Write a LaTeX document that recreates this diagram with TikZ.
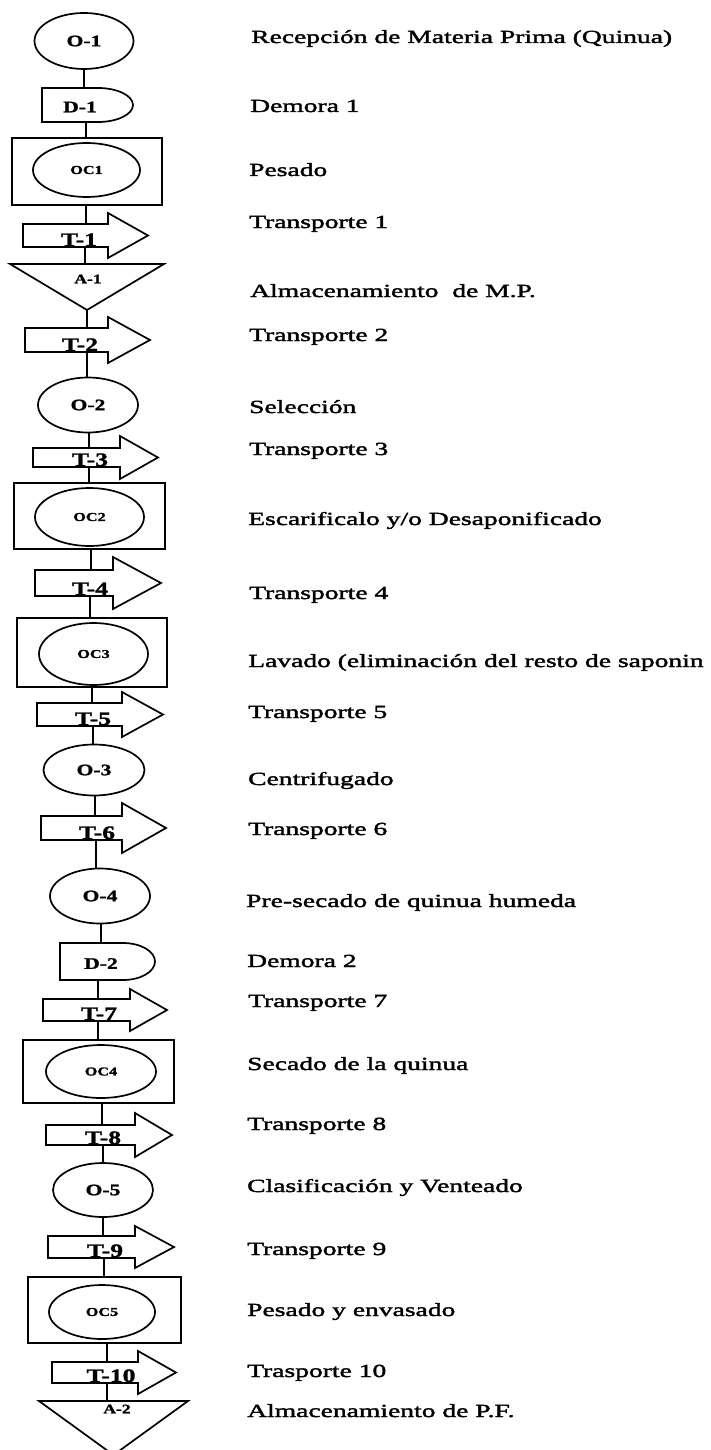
\documentclass[tikz,border=0pt]{standalone}
\usepackage{fontspec}
\setmainfont{Liberation Serif}
\newfontfamily\stepfont[FakeStretch=1.49,FakeBold=2]{Liberation Serif}
\newfontfamily\markfont[FakeStretch=1.35,FakeBold=1.5]{Liberation Serif Bold}
\usetikzlibrary{shapes.geometric,fit}

\tikzset{
  outline/.style={draw=black, line width=1.7pt, line join=miter},
  link/.style={draw=black, line width=2.6pt},
  hull/.style={inner sep=0pt, outer sep=0pt, draw=none, rectangle},
  opell/.style={outline, ellipse, inner sep=0pt, outer sep=0pt},
  ocbox/.style={outline, rectangle, inner sep=0pt, outer sep=0pt},
  tag/.style={inner sep=0pt, font=\markfont\fontsize{#1}{#1}\selectfont},
  desc/.style={anchor=base west, inner sep=0pt, font=\stepfont\fontsize{18.5}{20}\selectfont},
}

% transport arrow: name, body left, body right, body top, body bottom, tip x, head extend, label x, label
\newcommand\transport[9]{%
  \node[hull, fit={(#2,#4) (#3,#5)}] (#1) {};
  \draw[outline] (#1.south west) -- (#1.north west) -- (#1.north east)
    -- ++(0,-#7) -- (#6,{(#4+#5)/2}) -- ([yshift=-#7pt]#1.south east)
    -- (#1.south east) -- cycle;
  \node[tag=19, anchor=base] (#1-l) at (#8,{#5-1}) {#9};
}

% delay shape: name, left, top, right, bottom, bulge radius, label x, label
\newcommand\delay[8]{%
  \node[hull, fit={(#2,#3) (#4,#5)}] (#1) {};
  \draw[outline] (#1.south west) -- (#1.north west) -- ({#4-#6},#3)
    .. controls ({#4-0.448*#6},#3) and (#4,{(#3+#5)/2-0.276*(#5-#3)}) .. (#4,{(#3+#5)/2})
    .. controls (#4,{(#3+#5)/2+0.276*(#5-#3)}) and ({#4-0.448*#6},#5) .. ({#4-#6},#5)
    -- cycle;
  \node[tag=16] (#1-l) at (#7,{(#3+#5)/2+2}) {#8};
}

% storage triangle: name, left, top, right, apex y, label x, label y, label
\newcommand\storage[8]{%
  \node[hull, fit={(#2,#3) (#4,#5)}] (#1) {};
  \draw[outline] (#1.north west) -- (#1.north east) -- (#1.south) -- cycle;
  \node[tag=13] (#1-l) at (#6,#7) {#8};
}

\begin{document}
\begin{tikzpicture}[x=1pt,y=-1pt]
\useasboundingbox (0,0) rectangle (710,1450);
\fill[white] (0,0) rectangle (710,1450);

% ---- process chain ----
\node[opell, minimum width=99pt, minimum height=56pt, tag=16] (o1) at (84,41) {O-1};
\delay{d1}{42}{88}{133}{122}{35}{80}{D-1}
\node[ocbox, minimum width=150pt, minimum height=67pt] (oc1) at (87,171.5) {};
\node[opell, minimum width=107pt, minimum height=54pt, tag=12] (oc1e) at (86.5,170) {OC1};
\transport{t1}{23}{108}{224}{247}{148}{11}{79}{T-1}
\storage{a1}{10}{264}{164}{310}{88}{279}{A-1}
\transport{t2}{25}{108}{328}{352}{150}{11}{80}{T-2}
\node[opell, minimum width=100pt, minimum height=55pt, tag=16] (o2) at (88,405) {O-2};
\transport{t3}{33}{120}{448}{467}{158}{12}{90}{T-3}
\node[ocbox, minimum width=151pt, minimum height=66pt] (oc2) at (89.5,516) {};
\node[opell, minimum width=109pt, minimum height=58pt, tag=12] (oc2e) at (89.5,517) {OC2};
\transport{t4}{35}{113}{570}{596}{161}{13}{90}{T-4}
\node[ocbox, minimum width=150pt, minimum height=69pt] (oc3) at (92,652.5) {};
\node[opell, minimum width=109pt, minimum height=62pt, tag=12] (oc3e) at (93.5,654) {OC3};
\transport{t5}{37}{122}{703}{726}{163}{11}{93}{T-5}
\node[opell, minimum width=101pt, minimum height=51pt, tag=16] (o3) at (94,770) {O-3};
\transport{t6}{41}{122}{816}{840}{166}{13}{97}{T-6}
\node[opell, minimum width=100pt, minimum height=55pt, tag=16] (o4) at (100,896) {O-4};
\delay{d2}{60}{943}{155}{980}{32}{101}{D-2}
\transport{t7}{43}{130}{999}{1021}{167}{10}{99}{T-7}
\node[ocbox, minimum width=151pt, minimum height=63pt] (oc4) at (98.5,1071.5) {};
\node[opell, minimum width=110pt, minimum height=53pt, tag=12] (oc4e) at (101,1071.5) {OC4};
\transport{t8}{46}{135}{1125}{1145}{172}{12}{103}{T-8}
\node[opell, minimum width=100pt, minimum height=54pt, tag=16] (o5) at (103,1190) {O-5};
\transport{t9}{48}{135}{1236}{1258}{174}{10}{105}{T-9}
\node[ocbox, minimum width=153pt, minimum height=66pt] (oc5) at (104.5,1310) {};
\node[opell, minimum width=106pt, minimum height=54pt, tag=12] (oc5e) at (102,1312) {OC5};
\transport{t10}{52}{138}{1362}{1383}{176}{11}{111}{T-10}
\storage{a2}{39}{1401}{188}{1455}{117}{1409}{A-2}

% ---- connectors ----
\draw[link] (84,0 |- o1.south) -- (84,0 |- d1.north);
\draw[link] (86,0 |- d1.south) -- (86,0 |- oc1.north);
\draw[link] (86,0 |- oc1.south) -- (86,0 |- t1.north);
\draw[link] (85,0 |- t1.south) -- (85,0 |- a1.north);
\draw[link] (87,0 |- a1.south) -- (87,0 |- t2.north);
\draw[link] (87,0 |- t2.south) -- (87,0 |- o2.north);
\draw[link] (89,0 |- o2.south) -- (89,0 |- t3.north);
\draw[link] (89,0 |- t3.south) -- (89,0 |- oc2.north);
\draw[link] (91,0 |- oc2.south) -- (91,0 |- t4.north);
\draw[link] (90,0 |- t4.south) -- (90,0 |- oc3.north);
\draw[link] (92,0 |- oc3.south) -- (92,0 |- t5.north);
\draw[link] (93,0 |- t5.south) -- (93,0 |- o3.north);
\draw[link] (95,0 |- o3.south) -- (95,0 |- t6.north);
\draw[link] (96,0 |- t6.south) -- (96,0 |- o4.north);
\draw[link] (101,0 |- o4.south) -- (101,0 |- d2.north);
\draw[link] (98,0 |- d2.south) -- (98,0 |- t7.north);
\draw[link] (98,0 |- t7.south) -- (98,0 |- oc4.north);
\draw[link] (102,0 |- oc4.south) -- (102,0 |- t8.north);
\draw[link] (103,0 |- t8.south) -- (103,0 |- o5.north);
\draw[link] (103,0 |- o5.south) -- (103,0 |- t9.north);
\draw[link] (104,0 |- t9.south) -- (104,0 |- oc5.north);
\draw[link] (107,0 |- oc5.south) -- (107,0 |- t10.north);
\draw[link] (107,0 |- t10.south) -- (107,0 |- a2.north);

% ---- step descriptions ----
\node[desc] (n1) at (251,43) {Recepción de Materia Prima (Quinua)};
\node[desc] (n2) at (250,112) {Demora 1};
\node[desc] (n3) at (249,176) {Pesado};
\node[desc] (n4) at (249,228) {Transporte 1};
\node[desc] (n5) at (250,297) {Almacenamiento\ \ de M.P.};
\node[desc] (n6) at (249,341) {Transporte 2};
\node[desc] (n7) at (249,413) {Selección};
\node[desc] (n8) at (249,455) {Transporte 3};
\node[desc] (n9) at (248,525) {Escarificalo y/o Desaponificado};
\node[desc] (n10) at (249,599) {Transporte 4};
\node[desc] (n11) at (248,667) {Lavado (eliminación del resto de saponin};
\node[desc] (n12) at (248,718) {Transporte 5};
\node[desc] (n13) at (248,785) {Centrifugado};
\node[desc] (n14) at (248,835) {Transporte 6};
\node[desc] (n15) at (246,907) {Pre-secado de quinua humeda};
\node[desc] (n16) at (247,967) {Demora 2};
\node[desc] (n17) at (248,1007) {Transporte 7};
\node[desc] (n18) at (247,1070) {Secado de la quinua};
\node[desc] (n19) at (247,1130) {Transporte 8};
\node[desc] (n20) at (247,1192) {Clasificación y Venteado};
\node[desc] (n21) at (247,1255) {Transporte 9};
\node[desc] (n22) at (247,1316) {Pesado y envasado};
\node[desc] (n23) at (247,1377) {Trasporte 10};
\node[desc] (n24) at (247,1417) {Almacenamiento de P.F.};
\end{tikzpicture}
\end{document}
